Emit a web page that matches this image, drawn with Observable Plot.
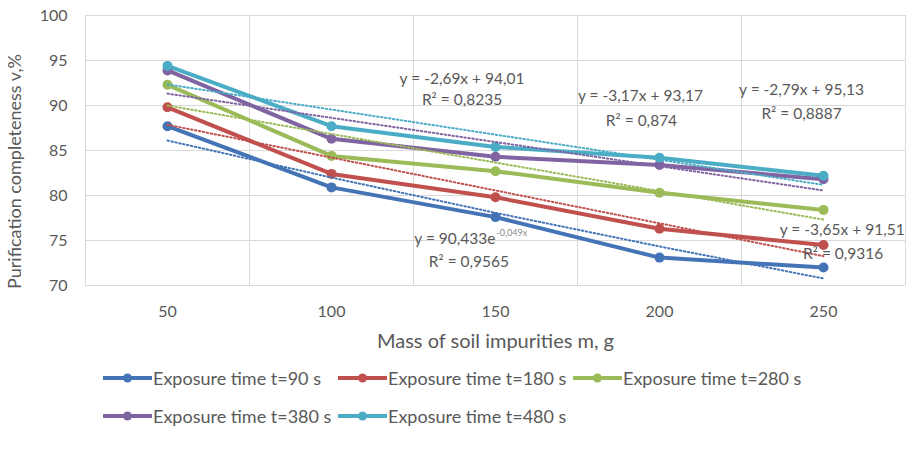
<!DOCTYPE html>
<html>
<head>
<meta charset="utf-8">
<script src="https://cdn.jsdelivr.net/npm/d3@7"></script>
<script src="https://cdn.jsdelivr.net/npm/@observablehq/plot@0.6"></script>
<style>
  body { margin: 0; background: #fff; }
  #wrap { position: relative; width: 918px; height: 459px; font-family: Lato, "Open Sans", sans-serif; color: #595959; }
  .leg { position: absolute; display: flex; align-items: center; font-size: 18px; line-height: 20px; white-space: nowrap; }
  .leg svg { margin-right: 1px; }
</style>
</head>
<body>
<div id="wrap"></div>
<script>
// ---- data ----
const categories = [50, 100, 150, 200, 250];
const seriesNames = [
  "Exposure time t=90 s",
  "Exposure time t=180 s",
  "Exposure time t=280 s",
  "Exposure time t=380 s",
  "Exposure time t=480 s"
];
const v90  = [87.7, 80.9, 77.6, 73.1, 72.0];
const v180 = [89.8, 82.4, 79.8, 76.3, 74.5];
const v280 = [92.3, 84.4, 82.7, 80.3, 78.4];
const v380 = [93.9, 86.3, 84.3, 83.4, 81.8];
const v480 = [94.4, 87.7, 85.4, 84.2, 82.2];
const seriesValues = [v90, v180, v280, v380, v480];
const colors = ["#4474b6", "#c0504d", "#9bbb59", "#8064a2", "#4bacc6"];
const yTicks = [70, 75, 80, 85, 90, 95, 100];

// trendlines (Excel, x = category index 1..5)
const trendType = ["exp", "linear", "linear", "linear", "linear"];
const trendA = [90.433, -3.65, -3.17, -2.69, -2.79];
const trendB = [-0.049, 91.51, 93.17, 94.01, 95.13];

// trendline labels
const eqText = ["y = 90,433e", "y = -3,65x + 91,51", "y = -3,17x + 93,17", "y = -2,69x + 94,01", "y = -2,79x + 95,13"];
const eqSup  = ["-0,049x", "", "", "", ""];
const r2Text = ["R² = 0,9565", "R² = 0,9316", "R² = 0,874", "R² = 0,8235", "R² = 0,8887"];

const yTitle = "Purification completeness v,%";
const xTitle = "Mass of soil impurities m, g";

// ---- layout (positions in data units for labels) ----
const eqPos = [[150.0, 75.19], [255.7, 76.19], [194.2, 91.1], [139.8, 92.97], [243.3, 91.74]];
const r2Pos = [[141.9, 72.59], [256.0, 73.52], [194.5, 88.3], [139.8, 90.56], [243.3, 89.07]];
const legendLeft = [103, 338, 573, 103, 338];
const legendTop  = [368, 368, 368, 406, 406];

// ---- build tables ----
const rows = [];
seriesNames.forEach((s, i) => categories.forEach((c, j) => rows.push({series: s, x: c, y: seriesValues[i][j]})));
const trendRows = [];
seriesNames.forEach((s, i) => categories.forEach((c, j) => {
  const k = j + 1;
  const y = trendType[i] === "exp" ? trendA[i] * Math.exp(trendB[i] * k) : trendA[i] * k + trendB[i];
  trendRows.push({series: s, x: c, y});
}));
const step = categories[1] - categories[0];
const boundaries = categories.map(c => c - step / 2).concat([categories[categories.length - 1] + step / 2]);

const eqRows = eqText.map((t, i) => ({t, x: eqPos[i][0], y: eqPos[i][1], sup: eqSup[i]}));
const r2Rows = r2Text.map((t, i) => ({t, x: r2Pos[i][0], y: r2Pos[i][1]}));

const chart = Plot.plot({
  width: 918,
  height: 360,
  marginLeft: 85,
  marginRight: 13,
  marginTop: 15,
  marginBottom: 75,
  style: {fontFamily: "Lato, 'Open Sans', sans-serif", fontSize: "16px", color: "#595959", background: "#fff"},
  x: {domain: [boundaries[0], boundaries[boundaries.length - 1]]},
  y: {domain: [70, 100]},
  color: {domain: seriesNames, range: colors},
  marks: [
    Plot.gridX(boundaries, {stroke: "#d9d9d9", strokeOpacity: 1, strokeWidth: 1}),
    Plot.gridY(yTicks, {stroke: "#d9d9d9", strokeOpacity: 1, strokeWidth: 1}),
    Plot.axisX(categories, {tickSize: 0, tickPadding: 20, label: null, fontSize: 16, fill: "#595959"}),
    Plot.axisY(yTicks, {tickSize: 0, tickPadding: 18, label: null, fontSize: 16, fill: "#595959"}),
    Plot.text([yTitle], {frameAnchor: "left", text: d => d, rotate: -90, textAnchor: "middle", dx: -70, dy: 21, fontSize: 18, fill: "#595959"}),
    Plot.text([xTitle], {frameAnchor: "bottom", text: d => d, textAnchor: "middle", dy: 62, fontSize: 20, fill: "#595959"}),
    Plot.line(rows, {x: "x", y: "y", z: "series", stroke: "series", strokeWidth: 4}),
    Plot.dot(rows, {x: "x", y: "y", fill: "series", r: 5}),
    Plot.line(trendRows, {x: "x", y: "y", z: "series", stroke: "series", strokeWidth: 2, strokeDasharray: "1.5,2.5", strokeLinecap: "round"}),
    Plot.text(eqRows.filter(d => !d.sup), {x: "x", y: "y", text: "t", fontSize: 15.5, fill: "#595959"}),
    Plot.text(eqRows.filter(d => d.sup), {x: "x", y: "y", text: "t", textAnchor: "end", fontSize: 15.5, fill: "#595959"}),
    Plot.text(eqRows.filter(d => d.sup), {x: "x", y: "y", text: "sup", textAnchor: "start", dy: -6, dx: 1, fontSize: 9, fill: "#8a8a8a"}),
    Plot.text(r2Rows, {x: "x", y: "y", text: "t", fontSize: 15.5, fill: "#595959"})
  ]
});

const wrap = document.getElementById("wrap");
wrap.appendChild(chart);
chart.style.position = "absolute";
chart.style.left = "0px";
chart.style.top = "0px";

seriesNames.forEach((s, i) => {
  const d = document.createElement("div");
  d.className = "leg";
  d.style.left = legendLeft[i] + "px";
  d.style.top = legendTop[i] + "px";
  d.innerHTML = `<svg width="49" height="14"><line x1="0" y1="7" x2="49" y2="7" stroke="${colors[i]}" stroke-width="4"/><circle cx="24.5" cy="7" r="4.5" fill="${colors[i]}"/></svg><span>${s}</span>`;
  wrap.appendChild(d);
});
</script>
</body>
</html>
